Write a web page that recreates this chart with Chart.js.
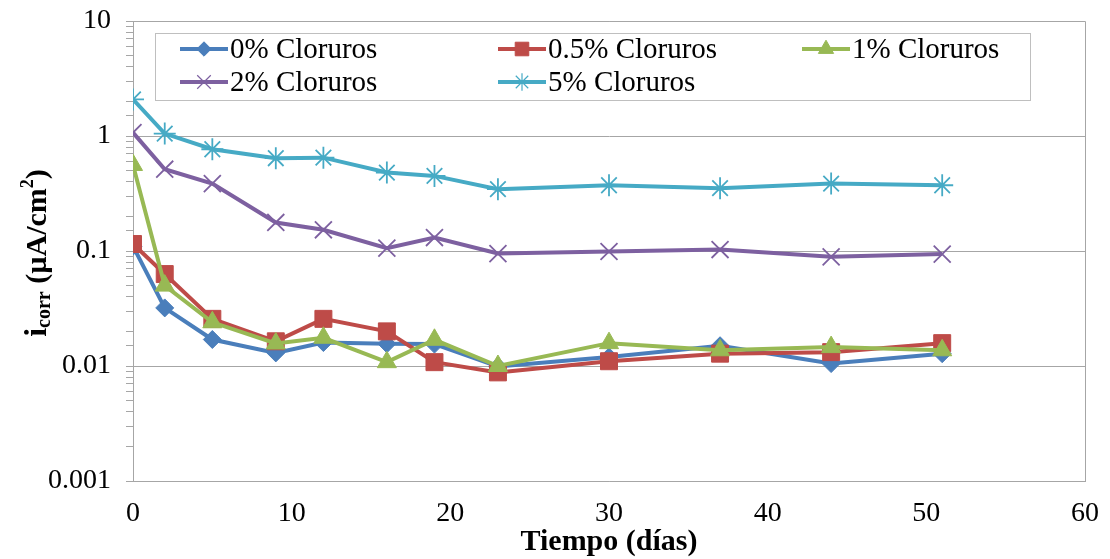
<!DOCTYPE html>
<html>
<head>
<meta charset="utf-8">
<script src="https://cdn.jsdelivr.net/npm/chart.js@4"></script>
<style>
  body { margin: 0; background: #fff; }
</style>
</head>
<body>
<canvas id="myChart" width="1110" height="559"></canvas>
<script>
// dias de ensayo
const days = [0, 2, 5, 9, 12, 16, 19, 23, 30, 37, 44, 51];

// icorr (uA/cm2) por serie
const cl0  = [0.11, 0.032, 0.017, 0.013, 0.016, 0.0156, 0.0155, 0.0099, 0.012, 0.015, 0.0105, 0.0128];
const cl05 = [0.115, 0.063, 0.0257, 0.0164, 0.0257, 0.020, 0.0108, 0.0088, 0.011, 0.0128, 0.0132, 0.0158];
const cl1  = [0.56, 0.050, 0.024, 0.0157, 0.0176, 0.0108, 0.0169, 0.0100, 0.0158, 0.0137, 0.0146, 0.0137];
const cl2  = [1.07, 0.514, 0.386, 0.177, 0.153, 0.106, 0.131, 0.095, 0.099, 0.103, 0.089, 0.094];
const cl5  = [2.08, 1.05, 0.767, 0.641, 0.648, 0.481, 0.45, 0.345, 0.373, 0.352, 0.386, 0.373];

const seriesNames = ['0% Cloruros', '0.5% Cloruros', '1% Cloruros', '2% Cloruros', '5% Cloruros'];
const yTickLabels = ['0.001', '0.01', '0.1', '1', '10'];
const xTicks = [0, 10, 20, 30, 40, 50, 60];

const colors = ['#4A7EBB', '#BE4B48', '#98B954', '#7D60A0', '#46AAC5'];
const markers = ['rectRot', 'rect', 'triangle', 'crossRot', 'star'];
const radii = [9, 12, 11, 12, 11];

const serif = '"Liberation Serif", "Times New Roman", serif';

function toPoints(vals) {
    return vals.map((v, i) => ({ x: days[i], y: v }));
}

function isDecade(v) {
    const e = Math.log10(v);
    return Math.abs(e - Math.round(e)) < 1e-6;
}

const allSeries = [cl0, cl05, cl1, cl2, cl5];

const datasets = allSeries.map((vals, i) => ({
    label: seriesNames[i],
    data: toPoints(vals),
    borderColor: colors[i],
    backgroundColor: colors[i],
    borderWidth: 4,
    pointStyle: markers[i],
    pointRadius: radii[i],
    pointBorderWidth: (i >= 3) ? 1.8 : 1,
    pointBorderColor: colors[i],
    pointBackgroundColor: colors[i],
    order: 5 - i,
    tension: 0
}));

// borde del area de trazado + leyenda + titulos
const decoPlugin = {
    id: 'deco',
    afterDraw(chart) {
        const ctx = chart.ctx;
        const a = chart.chartArea;
        ctx.save();
        ctx.strokeStyle = '#A6A6A6';
        ctx.lineWidth = 1;
        ctx.beginPath();
        ctx.moveTo(a.left, a.top + 0.5);
        ctx.lineTo(a.right + 0.5, a.top + 0.5);
        ctx.lineTo(a.right + 0.5, a.bottom);
        ctx.stroke();

        // leyenda
        const box = { x: 155, y: 33, w: 875, h: 67 };
        ctx.fillStyle = '#fff';
        ctx.fillRect(box.x, box.y, box.w, box.h);
        ctx.strokeStyle = '#BFBFBF';
        ctx.strokeRect(box.x + 0.5, box.y + 0.5, box.w, box.h);

        const cols = [180, 498, 802];
        const rows = [49, 82];
        ctx.font = '29px ' + serif;
        ctx.textBaseline = 'middle';
        seriesNames.forEach((name, i) => {
            const cx = cols[i % 3];
            const cy = rows[Math.floor(i / 3)];
            ctx.strokeStyle = colors[i];
            ctx.lineWidth = 4;
            ctx.beginPath();
            ctx.moveTo(cx, cy);
            ctx.lineTo(cx + 48, cy);
            ctx.stroke();
            ctx.lineWidth = (i >= 3) ? 1.2 : 1;
            ctx.fillStyle = colors[i];
            Chart.helpers.drawPoint(ctx, {
                pointStyle: markers[i],
                radius: radii[i] * 0.8,
                borderWidth: (i >= 3) ? 1.2 : 1,
                rotation: 0
            }, cx + 24, cy);
            ctx.fillStyle = '#000';
            ctx.textAlign = 'left';
            ctx.fillText(name, cx + 50, cy + 1);
        });

        // titulo eje x
        ctx.fillStyle = '#000';
        ctx.font = 'bold 30px ' + serif;
        ctx.textAlign = 'center';
        ctx.textBaseline = 'middle';
        ctx.fillText('Tiempo (días)', (a.left + a.right) / 2, 542);

        // titulo eje y con sub/superindice
        const parts = [
            { t: 'i', f: 'bold 32px ' + serif, dy: 0 },
            { t: 'corr', f: 'bold 20px ' + serif, dy: 7 },
            { t: ' (µA/cm', f: 'bold 30px ' + serif, dy: 0 },
            { t: '2', f: 'bold 18px ' + serif, dy: -10 },
            { t: ')', f: 'bold 30px ' + serif, dy: 0 }
        ];
        let total = 0;
        parts.forEach(p => { ctx.font = p.f; p.w = ctx.measureText(p.t).width; total += p.w; });
        ctx.translate(38, 253);
        ctx.rotate(-Math.PI / 2);
        ctx.textAlign = 'left';
        let px = -total / 2;
        parts.forEach(p => {
            ctx.font = p.f;
            ctx.fillText(p.t, px, p.dy);
            px += p.w;
        });
        ctx.restore();
    }
};

const chart = new Chart(document.getElementById('myChart').getContext('2d'), {
    type: 'line',
    data: { datasets: datasets },
    options: {
        responsive: false,
        animation: false,
        layout: { padding: { left: 0, right: 25, top: 21, bottom: 0 } },
        plugins: {
            legend: { display: false },
            tooltip: { enabled: false }
        },
        scales: {
            x: {
                type: 'linear',
                min: 0,
                max: 60,
                afterBuildTicks: (scale) => { scale.ticks = xTicks.map(v => ({ value: v })); },
                afterFit: (scale) => {
                    scale.height = 78;
                    scale.paddingLeft = 0;
                    scale.paddingRight = 0;
                },
                grid: { display: false, drawTicks: false },
                border: { display: true, color: '#A6A6A6', width: 1 },
                ticks: {
                    padding: 16,
                    color: '#000',
                    font: { family: serif, size: 28 },
                    maxRotation: 0
                }
            },
            y: {
                type: 'logarithmic',
                min: 0.001,
                max: 10,
                afterFit: (scale) => {
                    scale.width = 133;
                    scale.paddingTop = 0;
                    scale.paddingBottom = 0;
                },
                grid: {
                    color: (c) => (c.tick && isDecade(c.tick.value)) ? '#A6A6A6' : 'rgba(0,0,0,0)',
                    tickColor: '#A6A6A6',
                    tickLength: 7,
                    lineWidth: 1
                },
                border: { display: true, color: '#A6A6A6', width: 1 },
                ticks: {
                    padding: 15,
                    color: '#000',
                    autoSkip: false,
                    font: { family: serif, size: 28 },
                    callback: function (v) {
                        if (!isDecade(v)) return '';
                        const idx = Math.round(Math.log10(v)) + 3;
                        return yTickLabels[idx];
                    }
                }
            }
        }
    },
    plugins: [decoPlugin]
});
</script>
</body>
</html>
